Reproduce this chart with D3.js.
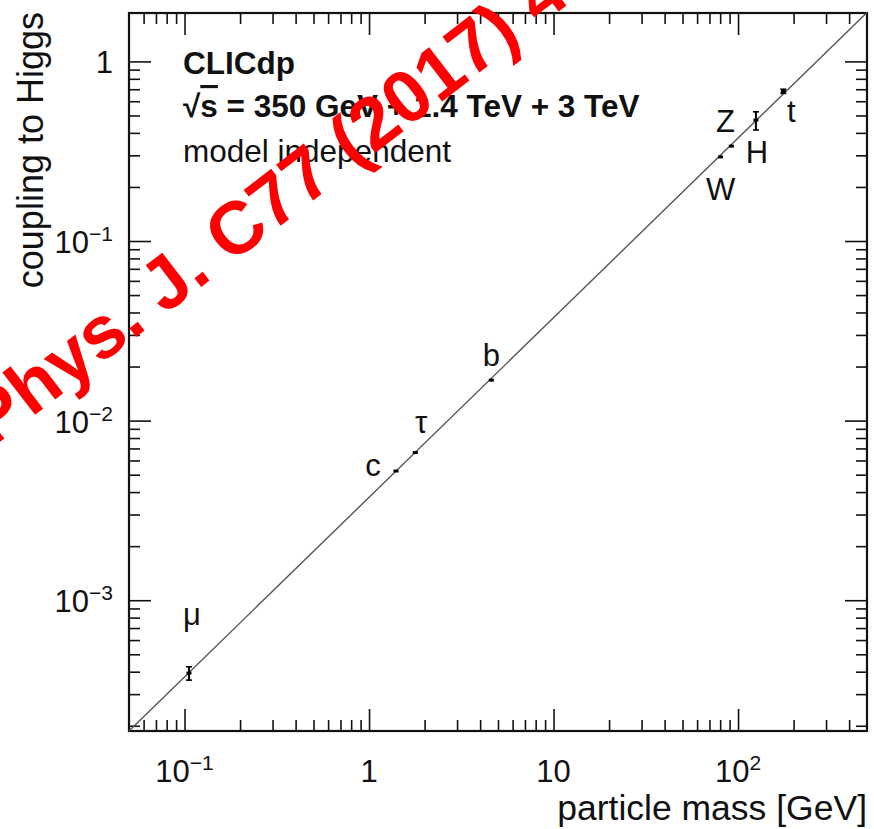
<!DOCTYPE html>
<html><head><meta charset="utf-8">
<script src="https://cdn.jsdelivr.net/npm/d3@7"></script>
<style>
body{margin:0;background:#fff}
text{font-family:"Liberation Sans",Arial,Helvetica,sans-serif;fill:#111}
</style>
</head><body>
<svg id="chart" width="874" height="829"></svg>
<script>
// ---- data ----
const particles = ["μ", "c", "τ", "b", "W", "Z", "H", "t"];
const mass      = [0.1057, 1.40, 1.78, 4.60, 80.4, 92.0, 125.0, 176.0];
const coupling  = [3.93e-4, 5.24e-3, 6.64e-3, 0.0168, 0.294, 0.3375, 0.471, 0.680];
const errLow    = [3.59e-4, 5.24e-3, 6.64e-3, 0.0168, 0.294, 0.3375, 0.415, 0.664];
const errHigh   = [4.26e-4, 5.24e-3, 6.64e-3, 0.0168, 0.294, 0.3375, 0.524, 0.700];
const lineMass     = [0.05, 500];
const lineCoupling = [1.87e-4, 1.87];
const xDomain = [0.05, 500];
const yDomain = [1.87e-4, 1.86];
const xMajorTicks = [0.1, 1, 10, 100];
const xTickBase = ["10", "1", "10", "10"];
const xTickExp  = ["−1", "", "", "2"];
const yMajorTicks = [1, 0.1, 0.01, 0.001];
const yTickBase = ["1", "10", "10", "10"];
const yTickExp  = ["", "−1", "−2", "−3"];
const xTitle = "particle mass [GeV]";
const yTitle = "coupling to Higgs";
const infoLines = ["CLICdp", "√s = 350 GeV + 1.4 TeV + 3 TeV", "model independent"];
const watermark = "Phys. J. C77 (2017) 4";

// ---- layout ----
const L = 129, R = 867, T = 13, B = 731;
const svg = d3.select("#chart");
const x = d3.scaleLog().domain(xDomain).range([L, R]);
const y = d3.scaleLog().domain(yDomain).range([B, T]);

function minors(dom) {
  const out = [];
  const lo = Math.floor(Math.log10(dom[0])), hi = Math.ceil(Math.log10(dom[1]));
  for (let e = lo; e <= hi; e++) for (let k = 2; k <= 9; k++) {
    const v = k * Math.pow(10, e);
    if (v > dom[0] * 1.001 && v < dom[1] * 0.999) out.push(v);
  }
  return out;
}
const xMinor = minors(xDomain), yMinor = minors(yDomain);

function styleAxis(g) {
  g.select(".domain").remove();
  g.selectAll(".tick line").attr("stroke", "#111").attr("stroke-width", 1.6);
  g.selectAll(".tick text").remove();
}
// bottom & top
svg.append("g").attr("transform", `translate(0,${B})`).call(d3.axisBottom(x).tickValues(xMajorTicks).tickSize(-22).tickFormat("")).call(styleAxis);
svg.append("g").attr("transform", `translate(0,${B})`).call(d3.axisBottom(x).tickValues(xMinor).tickSize(-11).tickFormat("")).call(styleAxis);
svg.append("g").attr("transform", `translate(0,${T})`).call(d3.axisTop(x).tickValues(xMajorTicks).tickSize(-22).tickFormat("")).call(styleAxis);
svg.append("g").attr("transform", `translate(0,${T})`).call(d3.axisTop(x).tickValues(xMinor).tickSize(-11).tickFormat("")).call(styleAxis);
// left & right
svg.append("g").attr("transform", `translate(${L},0)`).call(d3.axisLeft(y).tickValues(yMajorTicks).tickSize(-22).tickFormat("")).call(styleAxis);
svg.append("g").attr("transform", `translate(${L},0)`).call(d3.axisLeft(y).tickValues(yMinor).tickSize(-11).tickFormat("")).call(styleAxis);
svg.append("g").attr("transform", `translate(${R},0)`).call(d3.axisRight(y).tickValues(yMajorTicks).tickSize(-22).tickFormat("")).call(styleAxis);
svg.append("g").attr("transform", `translate(${R},0)`).call(d3.axisRight(y).tickValues(yMinor).tickSize(-11).tickFormat("")).call(styleAxis);

// frame
svg.append("rect").attr("x", L).attr("y", T).attr("width", R - L).attr("height", B - T)
  .attr("fill", "none").attr("stroke", "#111").attr("stroke-width", 2.2);

// tick labels
const tickFont = 31, supFont = 21;
xMajorTicks.forEach((v, i) => {
  const t = svg.append("text").attr("x", x(v)).attr("y", 782).attr("text-anchor", "middle")
    .attr("font-size", tickFont);
  t.append("tspan").text(xTickBase[i]);
  if (xTickExp[i]) t.append("tspan").attr("dy", -12).attr("font-size", supFont).text(xTickExp[i]);
});
yMajorTicks.forEach((v, i) => {
  const t = svg.append("text").attr("x", 113).attr("y", y(v) + 12).attr("text-anchor", "end")
    .attr("font-size", tickFont);
  t.append("tspan").text(yTickBase[i]);
  if (yTickExp[i]) t.append("tspan").attr("dy", -12).attr("font-size", supFont).text(yTickExp[i]);
});

// axis titles
svg.append("text").attr("x", R).attr("y", 820).attr("text-anchor", "end").attr("font-size", 35.5).text(xTitle);
svg.append("text").attr("transform", `translate(43,${T - 1}) rotate(-90)`).attr("text-anchor", "end")
  .attr("font-size", 36).text(yTitle);

// diagonal line
const line = d3.line().x(d => x(d[0])).y(d => y(d[1]));
svg.append("path").datum(d3.zip(lineMass, lineCoupling)).attr("d", line)
  .attr("fill", "none").attr("stroke", "#555").attr("stroke-width", 1.4);

// points with error bars
const pts = svg.append("g");
particles.forEach((p, i) => {
  const cx = x(mass[i]), cy = y(coupling[i]);
  const y1 = y(errHigh[i]), y2 = y(errLow[i]);
  if (y2 - y1 > 2) {
    pts.append("line").attr("x1", cx).attr("x2", cx).attr("y1", y1).attr("y2", y2).attr("stroke", "#000").attr("stroke-width", 2);
    [y1, y2].forEach(yy => pts.append("line").attr("x1", cx - 3).attr("x2", cx + 3).attr("y1", yy).attr("y2", yy).attr("stroke", "#000").attr("stroke-width", 1.6));
  }
  pts.append("rect").attr("x", cx - 2.5).attr("y", cy - 1.5).attr("width", 5).attr("height", 3).attr("fill", "#000");
});

// particle labels
const labelDx = [3, -23, 6, 0, 0, -6, 1, 8];
const labelDy = [-48, 5, -20, -14, 43, -14, 43, 31];
particles.forEach((p, i) => {
  svg.append("text").attr("x", x(mass[i]) + labelDx[i]).attr("y", y(coupling[i]) + labelDy[i])
    .attr("text-anchor", "middle").attr("font-size", 31).text(p);
});

// info text
const infoFont = 31.5;
svg.append("text").attr("x", 183).attr("y", 74).attr("font-size", infoFont).attr("font-weight", "bold").text(infoLines[0]);
const l2 = svg.append("text").attr("x", 183).attr("y", 117).attr("font-size", infoFont).attr("font-weight", "bold");
l2.append("tspan").text("√");
l2.append("tspan").attr("text-decoration", "overline").text("s");
l2.append("tspan").text(infoLines[1].slice(2));
svg.append("text").attr("x", 183).attr("y", 162).attr("font-size", infoFont).text(infoLines[2]);

// red watermark
svg.append("text").attr("transform", "translate(-8,448) rotate(-37.6)")
  .attr("font-size", 74).attr("font-weight", "bold").style("fill", "#ff0000").text(watermark);
</script>
</body></html>
